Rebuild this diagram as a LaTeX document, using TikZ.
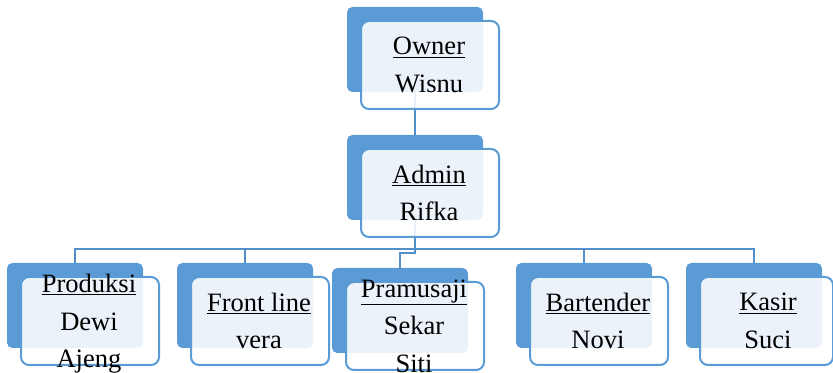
\documentclass[tikz,border=0pt]{standalone}
\usepackage{fontspec}
\setmainfont{Liberation Serif}
\usetikzlibrary{backgrounds}
\definecolor{boxblue}{RGB}{91,155,213}
\definecolor{lineblue}{RGB}{84,143,204}
\tikzset{
    back/.style={fill=boxblue, rounded corners=4pt, minimum width=102pt, minimum height=63.75pt, inner sep=0pt},
    front/.style={draw=boxblue, line width=1.5pt, fill=white, fill opacity=0.88, rounded corners=6pt, minimum height=66pt, inner sep=0pt},
    role/.style={font=\fontsize{19.9pt}{28.1pt}\selectfont, align=center, inner sep=0pt,
        execute at begin node=\strut, execute at end node=\strut},
    link/.style={draw=lineblue, line width=1.6pt}
}
\begin{document}
\begin{tikzpicture}[x=0.75pt, y=-0.75pt]
    \useasboundingbox (0,0) rectangle (833,373);
    % kotak jabatan: nama/x/y/lebar/teks
    \foreach \n/\x/\y/\w/\t in {owner/415/49.5/138/{\underline{Owner}\\Wisnu},
            admin/415/177.5/138/{\underline{Admin}\\Rifka},
            produksi/75/305.5/138/{\underline{Produksi}\\Dewi\\Ajeng},
            frontline/245/305.5/138/{\underline{Front line}\\vera},
            pramusaji/400/310.5/138/{\underline{Pramusaji}\\Sekar\\Siti},
            bartender/584/305.5/138/{\underline{Bartender}\\Novi},
            kasir/754/305.5/133/{\underline{Kasir}\\Suci}}{
        \node[back] (\n) at (\x,\y) {};
        \node[front, minimum width=\w*0.75pt, anchor=north west] (\n-f) at (\x-55,\y-29.5) {};
        \node[role] (\n-t) at (\x+14,\y+21) {\t};
    }
    % garis penghubung
    \begin{scope}[on background layer]
        \coordinate (bus) at (0,249);
        \draw[link] (owner.south) -- (admin.north);
        \draw[link] (admin.south) -- ++(0,33) -| (pramusaji.north);
        \draw[link] (produksi.north) -- (produksi.north |- bus) -- (kasir.north |- bus) -- (kasir.north);
        \foreach \n in {frontline,bartender}
            \draw[link] (\n.north) -- (\n.north |- bus);
    \end{scope}
\end{tikzpicture}
\end{document}
